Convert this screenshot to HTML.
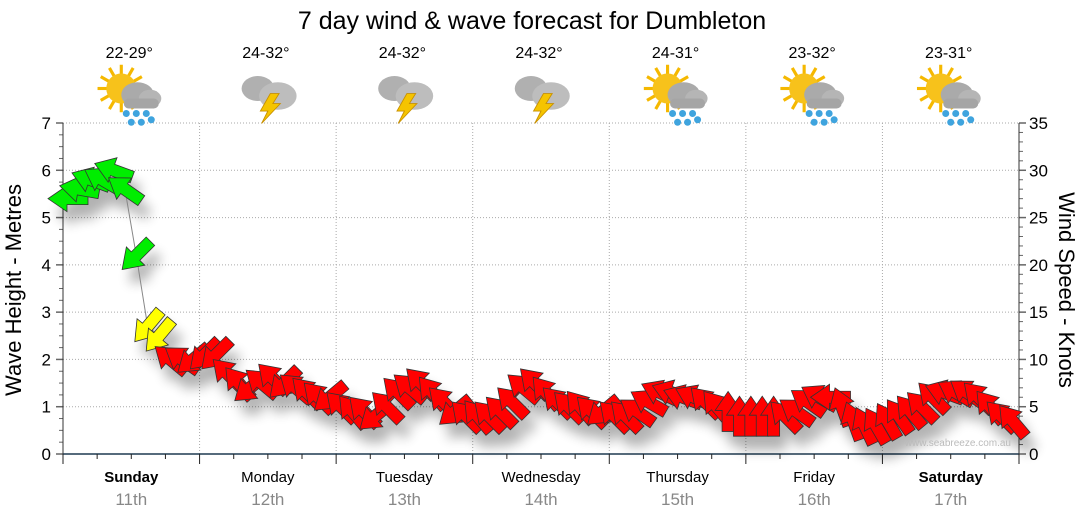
<!DOCTYPE html>
<html><head><meta charset="utf-8"><style>
body{margin:0;background:#fff;width:1080px;height:522px;overflow:hidden;font-family:"Liberation Sans",sans-serif}
svg text{font-family:"Liberation Sans",sans-serif}
</style></head><body>
<svg id="c" width="1080" height="522">
<defs><filter id="sh" x="-50%" y="-50%" width="200%" height="250%"><feGaussianBlur stdDeviation="6"/></filter></defs>
<text x="532" y="29" font-size="25" text-anchor="middle">7 day wind &amp; wave forecast for Dumbleton</text>
<text transform="translate(21,290) rotate(-90)" font-size="22" text-anchor="middle">Wave Height - Metres</text>
<text transform="translate(1059,290) rotate(90)" font-size="22" text-anchor="middle">Wind Speed - Knots</text>
<g id="grid"></g><g id="axes"></g><g id="icons"></g>
<g id="shadows" filter="url(#sh)" opacity="0.3"></g>
<polyline id="wline" fill="none" stroke="#888" stroke-width="1"/>
<g id="arrows"></g>
<text x="1011" y="446" font-size="10" fill="#bbb" text-anchor="end">www.seabreeze.com.au</text>
</svg>
<script>
const days=["Sunday","Monday","Tuesday","Wednesday","Thursday","Friday","Saturday"];
const dates=["11th","12th","13th","14th","15th","16th","17th"];
const temps=["22-29°","24-32°","24-32°","24-32°","24-31°","23-32°","23-31°"];
const icons=["sunrain","storm","storm","storm","sunrain","sunrain","sunrain"];
const leftTicks=[0,1,2,3,4,5,6,7];
const rightTicks=[0,5,10,15,20,25,30,35];
const knots=[27,28,29,29,30,28,21,13.5,12.5,10,10,10,10.5,10.5,8.5,7.5,7,7.5,8,7.5,7,6.5,6,6,5,4.5,4.5,4,5,6.5,7,7.5,6.5,5.5,4.5,4,4,4,4.5,5.5,7,7.5,6.5,5.5,5,5,4.5,4.5,4,4,4.5,5.5,6.5,6.5,6,6,5.5,5,4.5,4,4,4,4,4,4.5,5.5,6,6,5,3.5,3,3,3.5,4,4.5,5,6,6.5,6.5,6.5,6,5,4,3.5];
const dirs=[180,190,200,210,200,215,135,130,130,220,215,140,135,135,225,230,140,220,225,135,220,225,225,140,225,230,225,140,225,225,220,225,230,225,140,225,230,225,225,225,220,225,230,225,225,230,225,140,225,225,215,210,205,200,200,205,225,230,270,270,270,270,270,225,215,215,210,180,250,250,245,240,240,235,230,225,225,200,210,215,225,230,225,230];
const X0=63,X1=1019,Y0=454,Y1=123,DW=(X1-X0)/7;
const ym=m=>Y0-(m/7)*(Y0-Y1);
const yk=k=>ym(k/5);
const xi=i=>X0+5+i*(7*DW)/knots.length;
const NS="http://www.w3.org/2000/svg";
function mk(t,a,p){const e=document.createElementNS(NS,t);for(const k in a)e.setAttribute(k,a[k]);(p||document.getElementById('c')).appendChild(e);return e;}
const grid=document.getElementById('grid'),axes=document.getElementById('axes'),ic=document.getElementById('icons');
leftTicks.forEach(v=>{if(v>0){const g=mk('line',{x1:X0,x2:X1,y1:ym(v),y2:ym(v),stroke:'#aaa','stroke-dasharray':'1,2'},grid);}
 const t=mk('text',{x:X0-12,y:ym(v)+6,'font-size':17,'text-anchor':'end'},axes);t.textContent=v;});
for(let m=0;m<=28;m++){const y=ym(m/4);mk('line',{x1:X0-(m%4?4:7),x2:X0,y1:y,y2:y,stroke:'#666','stroke-width':m%4?1:1.5},axes);}
rightTicks.forEach(v=>{const t=mk('text',{x:X1+10,y:yk(v)+6,'font-size':17},axes);t.textContent=v;});
for(let k=0;k<=35;k++){const y=yk(k);mk('line',{x1:X1,x2:X1+(k%5?4:7),y1:y,y2:y,stroke:'#666','stroke-width':k%5?1:1.5},axes);}
mk('line',{x1:X0,x2:X0,y1:Y1,y2:Y0,stroke:'#333'},axes);mk('line',{x1:X1,x2:X1,y1:Y1,y2:Y0,stroke:'#333'},axes);
mk('line',{x1:X0,x2:X1,y1:Y0,y2:Y0,stroke:'#1f3a50','stroke-width':1.5},axes);
for(let q=0;q<=28;q++){const x=X0+q*DW/4;mk('line',{x1:x,x2:x,y1:Y0,y2:Y0+(q%4?5:10),stroke:'#222'},axes);}
days.forEach((d,i)=>{const cx=X0+DW*(i+0.5);
 if(i>0){const g=mk('line',{x1:X0+DW*i,x2:X0+DW*i,y1:Y1,y2:Y0,stroke:'#aaa','stroke-dasharray':'1,2'},grid);}
 const t=mk('text',{x:cx,y:482,'font-size':15,'text-anchor':'middle','font-weight':(i==0||i==6)?'bold':'normal'},axes);t.textContent=d;
 const t2=mk('text',{x:cx,y:505,'font-size':17,'text-anchor':'middle',fill:'#888'},axes);t2.textContent=dates[i];
 const t3=mk('text',{x:cx-2,y:58,'font-size':16,'text-anchor':'middle'},ic);t3.textContent=temps[i];
 const g=mk('g',{transform:`translate(${cx},96) scale(1.25)`},ic);
 if(icons[i]=="sunrain"){
  for(let r=0;r<12;r++){const a=r*30*Math.PI/180;mk('line',{x1:-8+Math.cos(a)*10,y1:-6+Math.sin(a)*10,x2:-8+Math.cos(a)*19,y2:-6+Math.sin(a)*19,stroke:'#f5b800','stroke-width':2.5},g);}
  mk('circle',{cx:-8,cy:-6,r:12,fill:'#f7c21b'},g);
  mk('ellipse',{cx:5,cy:-1,rx:13,ry:10,fill:'#aaa'},g);mk('ellipse',{cx:15,cy:2,rx:9,ry:7,fill:'#b5b5b5'},g);mk('rect',{x:-6,y:2,width:28,height:8,rx:4,fill:'#a5a5a5'},g);
  [[-4,14],[4,14],[12,14],[0,21],[8,21],[16,19]].forEach(p=>mk('circle',{cx:p[0],cy:p[1],r:2.8,fill:'#3fa4de'},g));
 }else{
  mk('ellipse',{cx:-8,cy:-6,rx:13,ry:10,fill:'#b0b0b0'},g);mk('ellipse',{cx:8,cy:0,rx:15,ry:11,fill:'#bdbdbd'},g);
  mk('polygon',{points:'2,-2 -6,12 0,12 -5,22 10,6 4,6 9,-2',fill:'#f5c400',stroke:'#c89000','stroke-width':0.7},g);
 }
});
// wind arrows
const sh=document.getElementById('shadows'),ar=document.getElementById('arrows');
const shape="-20,-6 1,-6 1,-13 20,0 1,13 1,6 -20,6";
let pts=[];
knots.forEach((k,i)=>{const x=xi(i),y=yk(k);pts.push(x+','+y);
 const col=k>=18?'#00ee00':(k>=12?'#ffff00':'#ff0000');
 mk('polygon',{points:shape,fill:'#000',transform:`translate(${x+7},${y+14}) rotate(${dirs[i]})`},sh);
 const p=mk('polygon',{points:shape,fill:col,stroke:'#333','stroke-width':0.8,transform:`translate(${x},${y}) rotate(${dirs[i]})`},ar);
 
 
});
const wl=document.getElementById('wline');wl.setAttribute('points',pts.join(' '));


</script>
</body></html>
